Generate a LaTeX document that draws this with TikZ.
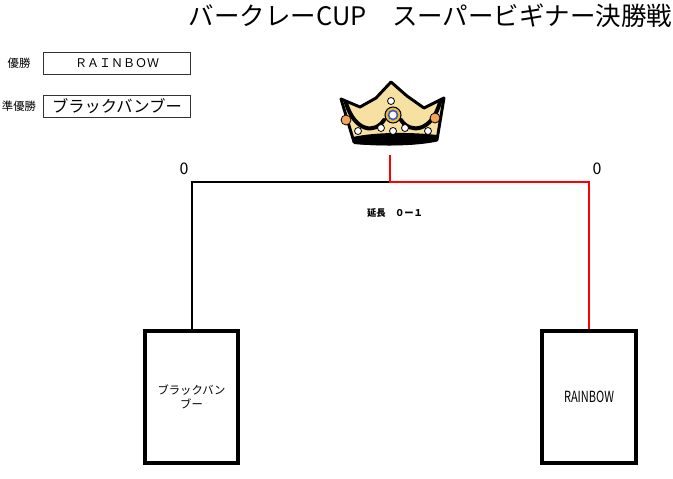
\documentclass[tikz,border=0pt]{standalone}
\usepackage{fontspec}
\setmainfont{Noto Sans CJK JP}
\usetikzlibrary{positioning}
\definecolor{crownfill}{HTML}{F6E0A2}
\definecolor{gold}{HTML}{E6BE3C}
\definecolor{pearlorange}{HTML}{F2A45A}
\definecolor{gem}{HTML}{3C5AC8}
\tikzset{
  title/.style={font=\fontsize{19.1}{21}\selectfont, inner sep=0pt},
  rbox/.style={draw=black!80, line width=0.8pt, minimum width=110pt, minimum height=17pt, inner sep=0pt},
  lbl/.style={font=\fontsize{8.5}{9}\selectfont, inner sep=0pt},
  team/.style={draw, line width=3pt, minimum width=70pt, minimum height=99pt, align=center,
    font=\fontsize{8.5}{10}\selectfont},
  score/.style={font=\fontsize{12}{12}\selectfont, inner sep=0pt},
  note/.style={font=\bfseries\fontsize{7}{8}\selectfont, inner sep=0pt},
  link/.style={line width=1.5pt},
  pearl/.style={fill=white, draw=black, line width=0.6pt}
}
\def\crownbody{(341,99) -- (360,107) -- (376,98) -- (391,82) -- (407,96) -- (424,108) -- (444,98)
  -- (437,140) .. controls (415,145) and (375,145) .. (354,142) -- cycle}

\begin{document}
\begin{tikzpicture}[x=0.75pt,y=-0.75pt]
  \useasboundingbox (0,0) rectangle (673,478);
  % title
  \node[title] (title) at (430.5,16) {バークレーCUP　スーパービギナー決勝戦};
  % result
  \node[rbox] (winbox) at (117,63.5) {\fontsize{9}{9}\selectfont ＲＡＩＮＢＯＷ};
  \node[rbox] (runbox) at (117,106.5) {\fontsize{12.2}{13}\selectfont ブラックバンブー};
  \node[lbl] (winlbl) at (19,63) {優勝};
  \node[lbl] (runlbl) at (19,106) {準優勝};
  % crown
  \fill[crownfill] \crownbody;
  \draw[line width=2.2pt, line join=round] \crownbody;
  \draw[line width=3pt, line cap=round] (346,103) .. controls (355,132) and (375,134) .. (384,120);
  \draw[line width=3pt, line cap=round] (401,120) .. controls (410,134) and (432,132) .. (440,102);
  \fill (353,137) .. controls (375,132) and (412,132) .. (437,135) -- (437,141)
    .. controls (412,146) and (375,146) .. (354,144) -- cycle;
  \filldraw[fill=gold, draw=black, line width=0.8pt] (393,115) circle (8);
  \filldraw[fill=white, draw=gem, line width=1.2pt] (393,115) circle (4.5);
  \filldraw[fill=pearlorange, draw=black, line width=0.6pt] (346,120) circle (5);
  \filldraw[fill=pearlorange, draw=black, line width=0.6pt] (435,118) circle (5);
  \foreach \p in {(391,101),(381,128),(405,128),(393,131),(358,131),(428,131)}
    \filldraw[pearl] \p circle (3.5);
  % bracket
  \node[team] (left) at (191.5,397) {ブラックバン\\ブー};
  \node[team] (right) at (589,397) {\fontsize{11.5}{12}\selectfont\scalebox{0.72}[1]{RAINBOW}};
  \coordinate (mid) at (390,182);
  \coordinate (top) at (390,155);
  \draw[link] (left.north) |- (mid);
  \draw[link, red] (right.north) |- (mid) -- (top);
  \node[score] (lscore) at (184,169) {0};
  \node[score] (rscore) at (597,169) {0};
  \node[note] (extra) at (395,213) {延長　０ー１};
\end{tikzpicture}
\end{document}
